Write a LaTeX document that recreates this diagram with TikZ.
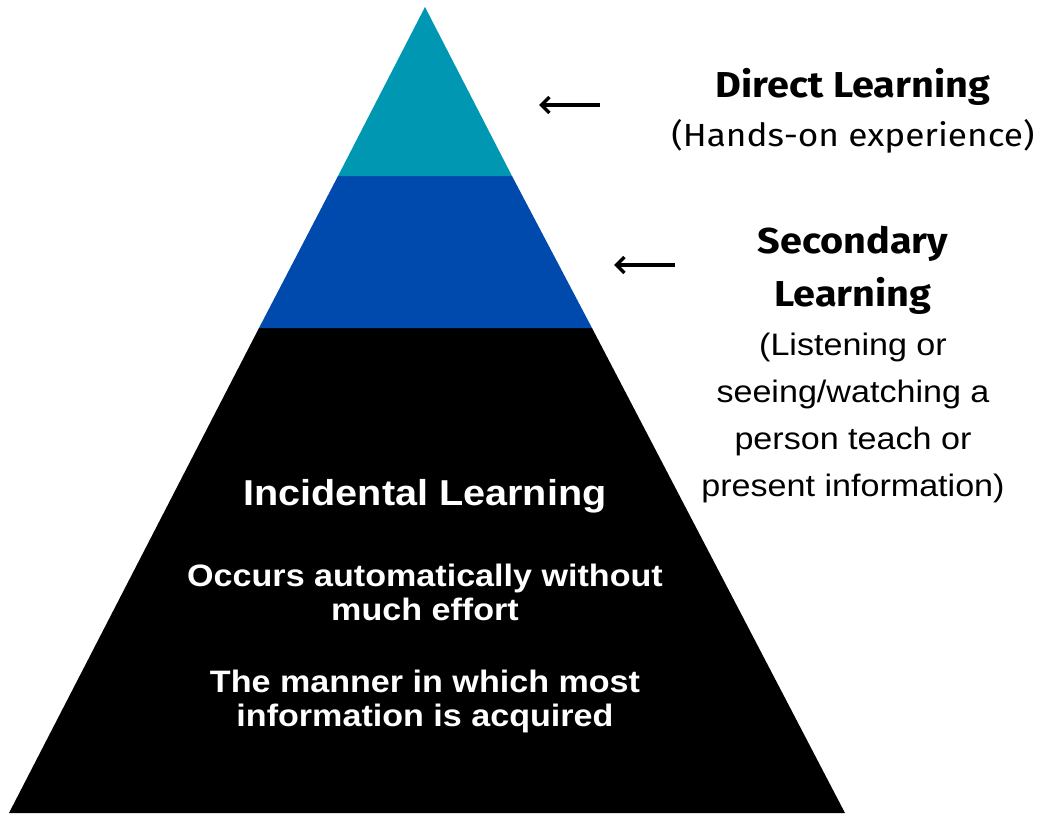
\documentclass[tikz,border=0pt]{standalone}
\usepackage{fontspec}
\setmainfont[FakeStretch=1.1]{Liberation Sans}
\newfontfamily\sidefont[FakeStretch=1.1]{Fira Sans}
\usepackage{tikz}
\usetikzlibrary{positioning, arrows.meta}
\definecolor{topteal}{HTML}{0097B2}
\definecolor{midblue}{HTML}{004AAD}

\begin{document}
\begin{tikzpicture}[x=1pt, y=-1pt,
    inner/.style={text=white, align=center, font=\bfseries\fontsize{31}{34}\selectfont},
    sidehead/.style={align=center, font=\sidefont\bfseries\fontsize{36}{53}\selectfont},
    sidetext/.style={align=center, font=\fontsize{31}{47}\selectfont},
    pointer/.style={line width=3.4pt, -{Straight Barb[length=8pt, width=16pt]}}]
    \useasboundingbox (0,0) rectangle (1045,816);
    % layers of the pyramid
    \fill[black] (259,328) -- (592,328) -- (845,813) -- (9,813) -- cycle;
    \fill[midblue] (338,176) -- (512,176) -- (592,328) -- (259,328) -- cycle;
    \fill[topteal] (425,7) -- (512,176) -- (338,176) -- cycle;

    \node[inner, font=\bfseries\fontsize{36}{40}\selectfont] (incidental) at (425,496) {Incidental Learning};
    \node[inner] (effort) at (425,592) {Occurs automatically without\\much effort};
    \node[inner] (manner) at (425,701) {The manner in which most\\information is acquired};

    \node[sidehead] (direct) at (853,87) {Direct Learning};
    \node[sidetext, font=\sidefont\fontsize{32}{40}\selectfont] (hands) at (853,136) {(Hands-on experience)};
    \node[sidehead] (secondary) at (853,270) {Secondary\\Learning};
    \node[sidetext] (listening) at (853,418) {(Listening or\\seeing/watching a\\person teach or\\present information)};

    % arrows pointing at the layers
    \coordinate (directtail) at (600,105);
    \coordinate (directtip) at (539,105);
    \coordinate (secondtail) at (675,265);
    \coordinate (secondtip) at (614,265);
    \draw[pointer] (directtail) -- (directtip);
    \draw[pointer] (secondtail) -- (secondtip);
\end{tikzpicture}
\end{document}
